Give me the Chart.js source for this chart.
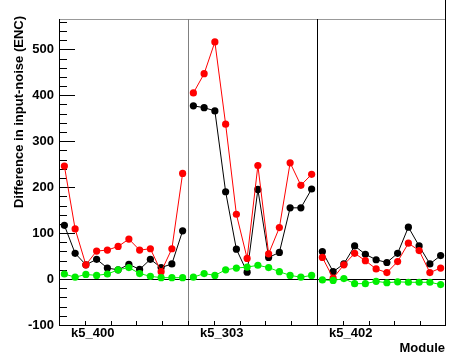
<!DOCTYPE html>
<html>
<head>
<meta charset="utf-8">
<script src="https://cdn.jsdelivr.net/npm/chart.js@4/dist/chart.umd.min.js"></script>
<style>
  body { margin: 0; background: #fff; }
  canvas { display: block; }
</style>
</head>
<body>
<canvas id="noiseChart" width="450" height="355"></canvas>
<script>
let modules = ["k5_400", "k5_303", "k5_402"];
let channelsPerModule = 12;
let yTicks = [-100, 0, 100, 200, 300, 400, 500];

// values, 12 per module
let redValues = [246, 109, 31, 61, 63, 71, 87, 63, 66, 16, 66, 230,
                 405, 447, 516, 337, 141, 45, 247, 55, 112, 253, 204, 228,
                 47, 2, 31, 56, 40, 22, 14, 38, 78, 62, 14, 24];
let blackValues = [117, 56, 31, 43, 24, 20, 32, 21, 43, 25, 33, 105,
                   377, 373, 366, 190, 65, 15, 195, 47, 58, 155, 155, 196,
                   60, 16, 33, 72, 54, 42, 36, 56, 113, 72, 33, 51];
let greenValues = [11, 4, 10, 8, 11, 20, 25, 12, 6, 3, 3, 3,
                   4, 12, 8, 20, 24, 26, 30, 25, 16, 8, 4, 8,
                   -2, -3, 1, -10, -10, -5, -8, -6, -7, -7, -7, -12];

let labels = [];
modules.forEach(m => {
    for (let i = 1; i <= channelsPerModule; i++) labels.push(m + "-" + i);
});

const FONT = "bold 13px 'Liberation Sans', Arial, sans-serif";

// no line between the last channel of one module and the first of the next
function breakAtModules(color) {
    return ctx => ((ctx.p0DataIndex + 1) % channelsPerModule === 0) ? "transparent" : color;
}

function makeSet(values, color) {
    return {
        data: values,
        borderColor: color,
        backgroundColor: color,
        borderWidth: 1,
        pointRadius: 3.6,
        pointBorderWidth: 0,
        pointBackgroundColor: color,
        segment: { borderColor: breakAtModules(color) }
    };
}

function hline(ctx, x1, x2, y, color) {
    y = Math.round(y) + 0.5;
    ctx.strokeStyle = color;
    ctx.beginPath(); ctx.moveTo(x1, y); ctx.lineTo(x2, y); ctx.stroke();
}
function vline(ctx, x, y1, y2, color) {
    x = Math.round(x) + 0.5;
    ctx.strokeStyle = color;
    ctx.beginPath(); ctx.moveTo(x, y1); ctx.lineTo(x, y2); ctx.stroke();
}

const frame = {
    id: "frame",
    beforeDatasetsDraw(chart) {
        const ctx = chart.ctx;
        const a = chart.chartArea;
        const x = chart.scales.x, y = chart.scales.y;
        ctx.save();
        ctx.lineWidth = 1;

        hline(ctx, a.left, a.right, a.top, "#999");
        vline(ctx, a.right - 1, 0, a.bottom, "#000");
        vline(ctx, a.left, a.top, a.bottom, "#000");
        hline(ctx, a.left, a.right, a.bottom, "#000");

        // module dividers
        vline(ctx, x.getPixelForValue(channelsPerModule - 0.5), a.top, a.bottom, "#808080");
        vline(ctx, x.getPixelForValue(2 * channelsPerModule - 0.5), a.top, a.bottom, "#000");

        hline(ctx, a.left, a.right, y.getPixelForValue(0), "#000");

        // y ticks, drawn inside the frame
        for (let v = y.min; v <= y.max; v += 20) {
            let len = v % 100 === 0 ? 16 : 8;
            hline(ctx, a.left, a.left + len, y.getPixelForValue(v), "#000");
        }
        // x ticks, 15 divisions
        for (let k = 1; k < 15; k++) {
            let px = a.left + k * (a.right - a.left) / 15;
            vline(ctx, px, a.bottom - 4, a.bottom, "#000");
        }

        ctx.fillStyle = "#000";
        ctx.font = FONT;
        ctx.textAlign = "right";
        ctx.textBaseline = "middle";
        yTicks.forEach(v => ctx.fillText(String(v), a.left - 5, y.getPixelForValue(v)));

        ctx.textAlign = "left";
        modules.forEach((m, i) => {
            let left = x.getPixelForValue(i * channelsPerModule - 0.5);
            ctx.fillText(m, left + 12, 333);
        });
        ctx.textAlign = "right";
        ctx.fillText("Module", 445, 348);

        ctx.translate(19, 16);
        ctx.rotate(-Math.PI / 2);
        ctx.fillText("Difference in input-noise (ENC)", 0, 0);
        ctx.restore();
    }
};

const ctx = document.getElementById("noiseChart").getContext("2d");
let noiseChart = new Chart(ctx, {
    type: "line",
    data: {
        labels: labels,
        datasets: [
            makeSet(greenValues, "#00ee00"),
            makeSet(redValues, "#ff0000"),
            makeSet(blackValues, "#000000")
        ]
    },
    options: {
        responsive: false,
        animation: false,
        devicePixelRatio: 1,
        layout: { padding: { left: 59, top: 19, right: 3, bottom: 30 } },
        plugins: { legend: { display: false }, tooltip: { enabled: false } },
        scales: {
            x: { type: "category", offset: true, display: false },
            y: { min: -100, max: 566, display: false }
        }
    },
    plugins: [frame]
});
</script>
</body>
</html>
